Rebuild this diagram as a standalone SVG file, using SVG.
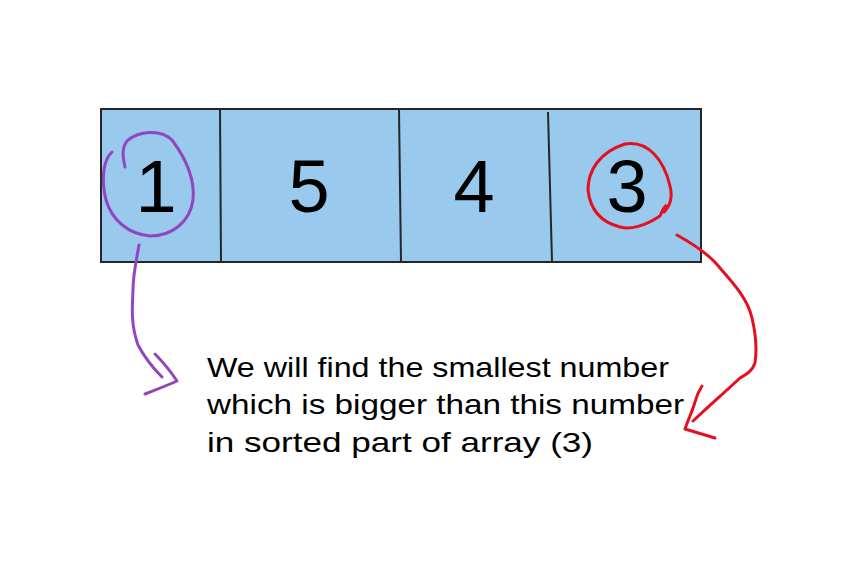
<svg xmlns="http://www.w3.org/2000/svg" width="857" height="588" viewBox="0 0 857 588">
<style>
.cell{fill:#9ac9ee;stroke:#262626;stroke-width:2}
.div{stroke:#262626;stroke-width:2;fill:none}
.num{font-family:"Liberation Sans",Arial,sans-serif;font-size:74px;fill:#000;text-anchor:middle}
.note{font-family:"Liberation Sans",Arial,sans-serif;font-size:28px;fill:#000}
.pen{fill:none;stroke-width:3;stroke-linecap:round;stroke-linejoin:round}
.purple{stroke:#9146c0}
.red{stroke:#e4101f}
</style>
<rect width="857" height="588" fill="#fff"/>
<g id="array">
<rect class="cell" x="101" y="109" width="600" height="153"/>
<path class="div" d="M220 110 L221 262 M399 110 L401 262 M548 112 L552 262"/>
</g>
<g id="cell1"><text class="num" x="156" y="212">1</text></g>
<g id="cell5"><text class="num" x="309" y="212">5</text></g>
<g id="cell4"><text class="num" x="474" y="212">4</text></g>
<g id="cell3"><text class="num" x="627" y="212">3</text></g>
<g id="connectors">
<path class="pen purple" d="M112 152 C103 160 101 180 106 200 C112 220 128 234 150 236 C172 236 190 222 193 200 C195 180 187 160 172 140 C160 128 138 132 128 140 C121 147 123 158 125 167"/>
<path class="pen purple" d="M139 245 C136 262 133 275 133 290 C132 310 131 325 138 345 C146 360 155 370 162 377"/>
<path class="pen purple" d="M155 354 C163 362 171 372 177 381 C166 386 155 390 145 394"/>
<path class="pen red" d="M663 210 C668 205 666 202 660 216 C645 226 630 230 620 227 C600 222 590 208 588 190 C588 170 600 152 625 144 C648 140 664 160 670 186 C673 198 670 206 664 212"/>
<path class="pen red" d="M677 235 C695 245 710 255 720 268 C735 285 748 300 752 318 C756 335 757 350 755 363 C752 372 745 375 740 378 C725 392 710 405 693 421"/>
<path class="pen red" d="M702 386 C698 392 696 398 695 402 C692 412 688 420 685 429 C695 432 705 435 715 438"/>
</g>
<g id="note">
<text class="note" x="207" y="377" textLength="462" lengthAdjust="spacingAndGlyphs">We will find the smallest number</text>
<text class="note" x="207" y="414" textLength="477" lengthAdjust="spacingAndGlyphs">which is bigger than this number</text>
<text class="note" x="207" y="452" textLength="386" lengthAdjust="spacingAndGlyphs">in sorted part of array (3)</text>
</g>
</svg>
